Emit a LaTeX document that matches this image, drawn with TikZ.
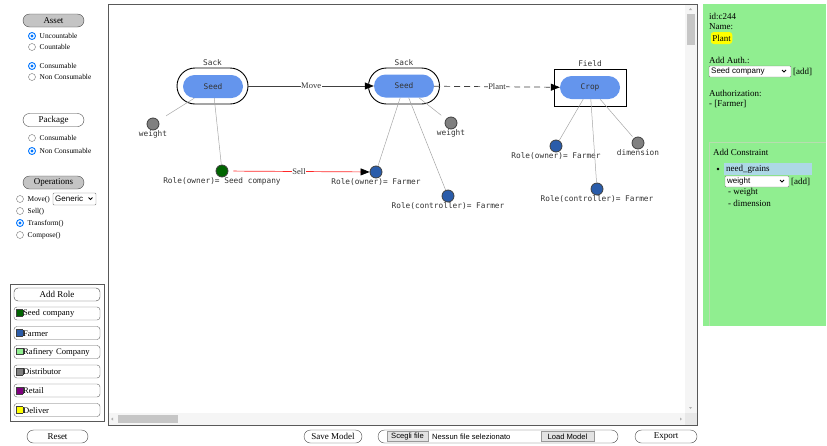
\documentclass[tikz,border=0pt]{standalone}
\usepackage{fontspec}
\setmainfont{Liberation Serif}
\newfontfamily\graphfont{DejaVu Sans Mono}
\newfontfamily\formfont{Liberation Sans}
\usetikzlibrary{arrows.meta,positioning}

\definecolor{seedblue}{HTML}{6495ED}
\definecolor{farmerblue}{HTML}{2A5CAA}
\definecolor{seedgreen}{HTML}{006400}
\definecolor{attrgray}{HTML}{808080}
\definecolor{panelgreen}{HTML}{90EE90}
\definecolor{btngray}{HTML}{C4C4C4}
\definecolor{radioblue}{HTML}{0075FF}
\definecolor{rafinery}{HTML}{90EE90}
\definecolor{retail}{HTML}{800080}
\definecolor{deliver}{HTML}{FFFF00}
\definecolor{highlight}{HTML}{ADD8E6}
\definecolor{boxline}{HTML}{B8DDB0}

\newcommand\swatch[1]{{\setlength\fboxsep{0pt}\setlength\fboxrule{0.6pt}\fcolorbox{black!75}{#1}{\rule{0pt}{6pt}\rule{6pt}{0pt}}}}

\begin{document}
\begin{tikzpicture}[x=1pt,y=-1pt,
    pill/.style={draw=black!75, fill=white, rounded corners=6.5pt, minimum height=13pt,
        inner sep=0pt, font=\fontsize{9}{10}\selectfont},
    graybtn/.style={pill, fill=btngray, minimum width=61pt},
    rolebtn/.style={draw=black!60, rounded corners=3pt, minimum width=86pt, minimum height=13pt,
        inner sep=1pt, text width=82pt, align=left, font=\fontsize{8.6}{10}\selectfont},
    radio/.style={circle, draw=black!55, fill=white, minimum size=7pt, inner sep=0pt},
    radioon/.style={radio, draw=radioblue, line width=0.9pt,
        path picture={\fill[radioblue] (path picture bounding box.center) circle (1.7pt);}},
    opt/.style={anchor=west, inner sep=0pt, font=\fontsize{7.4}{9}\selectfont},
    panel/.style={anchor=west, inner sep=0pt, font=\fontsize{9}{10}\selectfont},
    select/.style={draw=black!50, fill=white, rounded corners=1pt},
    sack/.style={draw=black, line width=0.9pt, rounded corners=18pt, minimum width=71pt, minimum height=36pt},
    field/.style={draw=black, line width=0.9pt, minimum width=72pt, minimum height=37pt},
    asset/.style={fill=seedblue, rounded corners=11.5pt, minimum width=60pt, minimum height=23pt,
        inner sep=0pt, text=black!80, font=\graphfont\fontsize{7.8}{9}\selectfont},
    glabel/.style={font=\graphfont\fontsize{7.8}{9}\selectfont, text=black!80, inner sep=1pt},
    attr/.style={circle, draw=black!75, line width=0.8pt, fill=attrgray, minimum size=12pt, inner sep=0pt},
    role/.style={attr, fill=farmerblue},
    link/.style={draw=black!35, line width=0.5pt},
    op/.style={-{Triangle[length=9pt,width=7pt,color=black]}, draw=black!75, line width=0.7pt},
    elabel/.style={fill=white, inner sep=0.5pt, text=black!80, font=\fontsize{8.5}{10}\selectfont}]

\useasboundingbox (0,0) rectangle (827,445);

% left panel
\node[graybtn] (assetbtn) at (53.5,20.5) {Asset};
\node[radioon] (r1) at (32,36) {};   \node[opt] at (39.5,36) {Uncountable};
\node[radio] (r2) at (32,47) {};     \node[opt] at (39.5,47) {Countable};
\node[radioon] (r3) at (32,66) {};   \node[opt] at (39.5,66) {Consumable};
\node[radio] (r4) at (32,77) {};     \node[opt] at (39.5,77) {Non Consumable};

\node[pill, minimum width=61pt] (packagebtn) at (53.5,120) {Package};
\node[radio] (r5) at (32,138) {};    \node[opt] at (39.5,138) {Consumable};
\node[radioon] (r6) at (32,151) {};  \node[opt] at (39.5,151) {Non Consumable};

\node[graybtn] (opsbtn) at (53.5,182.5) {Operations};
\node[radio] (r7) at (20,199) {};    \node[opt] at (27.5,199.5) {Move()};
\draw[select] (53,193) rectangle (96,205);
\node[anchor=west, inner sep=0pt, font=\formfont\fontsize{8}{9}\selectfont] (generic) at (55,199) {Generic};
\draw[line width=0.9pt] (88.5,197.5) -- (90.5,199.5) -- (92.5,197.5);
\node[radio] (r8) at (20,211) {};    \node[opt] at (27.5,211.5) {Sell()};
\node[radioon] (r9) at (20,223) {};  \node[opt] at (27.5,223.5) {Transform()};
\node[radio] (r10) at (20,235) {};   \node[opt] at (27.5,235.5) {Compose()};

\draw[black!65] (10,284) rectangle (104,421);
\node[pill, rounded corners=4pt, minimum width=86pt] (addrole) at (57,294.5) {Add Role};
\node[rolebtn] (seedco) at (57,313.5) {\swatch{seedgreen}Seed company};
\node[rolebtn] (farmer) at (57,333) {\swatch{farmerblue}Farmer};
\node[rolebtn] (rafco) at (57,352) {\swatch{rafinery}Rafinery Company};
\node[rolebtn] (distrib) at (57,371.5) {\swatch{attrgray}Distributor};
\node[rolebtn] (retail) at (57,390.5) {\swatch{retail}Retail};
\node[rolebtn] (deliver) at (57,410) {\swatch{deliver}Deliver};

\node[pill, minimum width=61pt] (reset) at (57.5,436.5) {Reset};

% canvas
\fill[gray!8] (685,5) rectangle (697,425) (108,413) rectangle (697,425);
\fill[gray!18] (685,413) rectangle (697,425);
\fill[gray!45] (687,14) rectangle (695,45);
\fill[gray!45] (118,415) rectangle (178,423);
\fill[gray!60] (689,10) -- (692,10) -- (690.5,8) -- cycle (689,407) -- (692,407) -- (690.5,409) -- cycle
    (113,417.5) -- (113,420.5) -- (111,419) -- cycle (680,417.5) -- (680,420.5) -- (682,419) -- cycle;
\draw[black!65] (108,4) rectangle (697,425);

% model
\node[sack] (sackA) at (212.5,86) {};
\node[asset] (seedA) at (213,86.5) {Seed};
\node[glabel, above=1pt of sackA] {Sack};
\node[sack] (sackB) at (404,86) {};
\node[asset] (seedB) at (404,86) {Seed};
\node[glabel, above=1pt of sackB] {Sack};
\node[field] (fieldC) at (590,87.5) {};
\node[asset] (cropC) at (590,87.5) {Crop};
\node[glabel, above=1pt of fieldC] {Field};

\node[attr, label={[glabel, label distance=-1pt]below:weight}] (weightA) at (153,124) {};
\node[role, fill=seedgreen, label={[glabel, label distance=-1pt]below:Role(owner)= Seed company}] (ownerA) at (222,171) {};
\node[role, label={[glabel, label distance=-1pt]below:Role(owner)= Farmer}] (ownerB) at (376,172) {};
\node[role, label={[glabel, label distance=-1pt]below:Role(controller)= Farmer}] (ctrlB) at (448,196) {};
\node[attr, label={[glabel, label distance=-1pt]below:weight}] (weightB) at (451,123) {};
\node[role, label={[glabel, label distance=-1pt]below:Role(owner)= Farmer}] (ownerC) at (556,146) {};
\node[role, label={[glabel, label distance=-1pt]below:Role(controller)= Farmer}] (ctrlC) at (597,189) {};
\node[attr, label={[glabel, label distance=-1pt]below:dimension}] (dimC) at (638,143) {};

\draw[link, shorten >=9pt] (seedA) -- (weightA);
\draw[link] (seedA) -- (ownerA);
\draw[link] (seedB) -- (ownerB);
\draw[link] (seedB) -- (ctrlB);
\draw[link, shorten >=6pt] (seedB) -- (weightB);
\draw[link] (cropC) -- (ownerC);
\draw[link] (cropC) -- (ctrlC);
\draw[link, shorten >=2pt] (cropC) -- (dimC);

\draw[op] (sackA) -- (seedB) node[midway, elabel] {Move};
\draw[op, dash pattern=on 6pt off 4pt] (seedB) -- (cropC) node[midway, elabel] {Plant};
\draw[op, draw=red!85, shorten <=5pt] (ownerA) -- (ownerB) node[midway, elabel] {Sell};

% right panel
\fill[panelgreen] (703,4) rectangle (826,326);
\node[panel] (cid) at (709,16) {id:c244};
\node[panel] (cname) at (709,27) {Name:};
\node[fill=deliver, rounded corners=3pt, inner sep=1.5pt, font=\fontsize{9}{10}\selectfont,
    minimum height=12pt] (cplant) at (721.5,38) {Plant};
\node[panel] (addauth) at (709,60) {Add Auth.:};
\draw[select] (709,66) rectangle (791,77);
\node[anchor=west, inner sep=0pt, font=\formfont\fontsize{8}{9}\selectfont] (authsel) at (711,71.5) {Seed company};
\draw[line width=0.9pt] (782,70) -- (784,72) -- (786,70);
\node[panel] (authadd) at (793,71.5) {[add]};
\node[panel] (authz) at (709,93) {Authorization:};
\node[panel] (authf) at (709,104) {- [Farmer]};

\draw[boxline] (826,142.5) -- (709,142.5) -- (709,326);
\node[panel] (addcons) at (713,152) {Add Constraint};
\fill (718,169) circle (1.4pt);
\fill[highlight] (724,163) rectangle (812,175);
\node[panel] (needgr) at (726,169) {need\_grains};
\draw[select] (725,176) rectangle (789,187);
\node[anchor=west, inner sep=0pt, font=\formfont\fontsize{8}{9}\selectfont] (conssel) at (727,181.5) {weight};
\draw[line width=0.9pt] (780,180) -- (782,182) -- (784,180);
\node[panel] (consadd) at (791,181.5) {[add]};
\node[panel] (cw) at (728,192) {- weight};
\node[panel] (cd) at (728,203) {- dimension};

% bottom bar
\node[pill, minimum width=58pt] (save) at (333,436.5) {Save Model};
\draw[black!75, rounded corners=6.5pt] (378,430) rectangle (618,443);
\node[draw=black!40, fill=gray!22, minimum width=41pt, minimum height=10pt, inner sep=0pt,
    font=\formfont\fontsize{7.6}{9}\selectfont] (choose) at (407.5,436.5) {Scegli file};
\node[anchor=west, inner sep=0pt, font=\formfont\fontsize{7.6}{9}\selectfont] (nofile) at (432,436.5) {Nessun file selezionato};
\node[draw=black!40, fill=gray!22, minimum width=53pt, minimum height=10pt, inner sep=0pt,
    font=\formfont\fontsize{7.6}{9}\selectfont] (load) at (567.5,436.5) {Load Model};
\node[pill, minimum width=62pt] (export) at (666,436.5) {Export};
\end{tikzpicture}
\end{document}
